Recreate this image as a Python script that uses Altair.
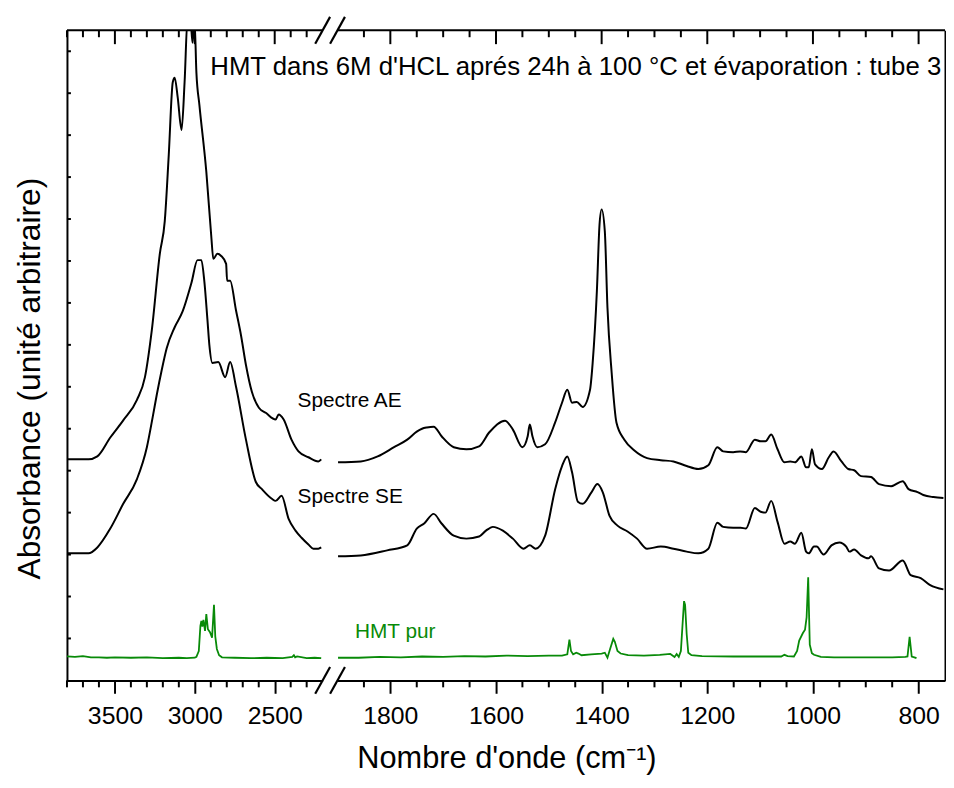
import altair as alt
import pandas as pd

FONT = "Liberation Sans"

# ---------------- data (wavenumber cm-1, absorbance in arbitrary offset units) ----------------
# left segment 3800 -> 2200
AE_L_W = [3800, 3665, 3610, 3529, 3448, 3362, 3312, 3269, 3219, 3188, 3163, 3138, 3126, 3107, 3083,
          3064, 3045, 3027, 3014, 3002, 2990, 2971, 2928, 2897, 2884, 2859, 2835, 2804, 2798, 2779,
          2742, 2711, 2680, 2643, 2599, 2556, 2494, 2475, 2444, 2395, 2351, 2289, 2227, 2209]
AE_L_A = [5.27, 5.27, 5.34, 5.79, 6.20, 6.69, 7.23, 8.35, 10.17, 10.95, 12.53, 14.26, 14.37, 13.90, 13.12,
          14.26, 15.8, 15.75, 15.2, 15.75, 14.49, 13.71, 12.13, 10.59, 10.05, 10.17, 10.12, 9.93, 9.53, 9.53,
          8.82, 8.23, 7.52, 6.88, 6.50, 6.38, 6.22, 6.34, 6.22, 5.74, 5.46, 5.32, 5.22, 5.27]

SE_L_W = [3800, 3665, 3610, 3529, 3448, 3362, 3300, 3263, 3238, 3207, 3176, 3126, 3077, 3021, 2983,
          2959, 2940, 2921, 2909, 2890, 2853, 2810, 2779, 2742, 2680, 2618, 2580, 2518, 2494, 2457,
          2413, 2370, 2332, 2289, 2258, 2227, 2209]
SE_L_A = [3.03, 3.03, 3.17, 3.62, 4.21, 4.80, 5.56, 6.29, 6.81, 7.40, 7.92, 8.42, 8.79, 9.48, 10.02,
          10.02, 9.50, 8.60, 8.00, 7.57, 7.59, 7.23, 7.59, 7.00, 5.74, 4.73, 4.56, 4.33, 4.28, 4.40,
          3.85, 3.57, 3.40, 3.24, 3.14, 3.14, 3.17]

HMT_L_W = [3800, 3750, 3700, 3650, 3600, 3550, 3500, 3400, 3300, 3200, 3100, 3050, 3000, 2990, 2975,
           2965, 2959, 2953, 2946, 2936, 2928, 2918, 2905, 2892, 2880, 2872, 2862, 2848, 2830, 2750,
           2650, 2550, 2450, 2390, 2380, 2372, 2360, 2300, 2250, 2209]
HMT_L_A = [0.57, 0.56, 0.58, 0.55, 0.55, 0.54, 0.55, 0.54, 0.55, 0.53, 0.54, 0.53, 0.54, 0.56, 0.70,
           1.30, 1.42, 1.28, 1.44, 1.18, 1.58, 1.22, 1.15, 1.02, 1.80, 1.05, 0.75, 0.60, 0.55, 0.54,
           0.53, 0.54, 0.53, 0.56, 0.60, 0.55, 0.57, 0.53, 0.54, 0.53]

# right segment 1900 -> 750
AE_R_W = [1899, 1856, 1824, 1793, 1768, 1750, 1740, 1731, 1718, 1703, 1680, 1656, 1632, 1613, 1583,
          1568, 1550, 1540, 1536, 1531, 1522, 1507, 1488, 1475, 1465, 1456, 1447, 1436, 1422, 1417,
          1409, 1404, 1400, 1394, 1389, 1381, 1372, 1357, 1338, 1314, 1288, 1264, 1239, 1217, 1198,
          1181, 1170, 1151, 1138, 1127, 1110, 1099, 1090, 1079, 1067, 1054, 1043, 1034, 1022, 1013,
          1008, 1002, 996, 983, 970, 961, 946, 933, 922, 909, 890, 875, 852, 830, 819,
          802, 791, 772, 753]
AE_R_A = [5.20, 5.22, 5.34, 5.56, 5.74, 5.93, 6.00, 6.03, 6.05, 5.82, 5.56, 5.51, 5.58, 5.91, 6.19,
          5.98, 5.56, 5.82, 6.10, 5.82, 5.56, 5.63, 6.15, 6.62, 6.93, 6.62, 6.64, 6.52, 6.93, 7.57,
          9.29, 10.87, 11.23, 10.71, 8.89, 7.33, 6.15, 5.74, 5.48, 5.30, 5.25, 5.22, 5.11, 5.04, 5.13,
          5.56, 5.46, 5.44, 5.46, 5.44, 5.74, 5.70, 5.70, 5.86, 5.51, 5.20, 5.22, 5.20, 5.34, 5.08,
          5.08, 5.51, 5.15, 5.04, 5.32, 5.46, 5.22, 5.04, 5.01, 4.87, 4.85, 4.68, 4.63, 4.75, 4.56,
          4.49, 4.42, 4.37, 4.35]

SE_R_W = [1899, 1856, 1806, 1768, 1750, 1736, 1718, 1703, 1680, 1656, 1632, 1619, 1606, 1587, 1568,
          1548, 1536, 1525, 1507, 1488, 1475, 1465, 1456, 1445, 1436, 1419, 1408, 1398, 1385, 1370,
          1351, 1333, 1314, 1288, 1264, 1239, 1217, 1198, 1181, 1170, 1151, 1137, 1127, 1110, 1099,
          1090, 1079, 1067, 1054, 1043, 1034, 1022, 1013, 1008, 998, 993, 980, 965, 950, 937,
          931, 922, 909, 895, 890, 875, 856, 830, 815, 796, 778, 753]
SE_R_A = [2.96, 2.98, 3.10, 3.22, 3.62, 3.74, 3.97, 3.74, 3.45, 3.38, 3.43, 3.57, 3.66, 3.57, 3.38,
          3.14, 3.22, 3.14, 3.45, 4.56, 5.11, 5.34, 4.96, 4.26, 4.21, 4.49, 4.68, 4.49, 3.92, 3.69,
          3.55, 3.38, 3.14, 3.19, 3.14, 3.07, 3.03, 3.14, 3.76, 3.66, 3.64, 3.64, 3.62, 4.11, 4.02,
          4.00, 4.28, 3.78, 3.26, 3.31, 3.26, 3.52, 3.07, 3.03, 3.19, 3.19, 3.00, 3.22, 3.29, 3.19,
          3.07, 3.12, 2.98, 2.91, 2.96, 2.67, 2.62, 2.86, 2.51, 2.44, 2.27, 2.17]

HMT_R_W = [1899, 1860, 1820, 1780, 1740, 1700, 1660, 1620, 1580, 1540, 1500, 1475, 1465, 1461, 1458,
           1454, 1448, 1444, 1438, 1420, 1400, 1394, 1389, 1384, 1378, 1375, 1370, 1364, 1350, 1320,
           1290, 1270, 1262, 1258, 1254, 1250, 1247, 1244, 1242, 1239, 1236, 1230, 1210, 1150, 1100,
           1060, 1054, 1048, 1036, 1030, 1026, 1019, 1015, 1012, 1009, 1006, 1002, 998, 985, 960,
           900, 850, 825, 821, 817, 813, 808, 804]
HMT_R_A = [0.54, 0.54, 0.56, 0.55, 0.57, 0.56, 0.58, 0.57, 0.59, 0.58, 0.59, 0.59, 0.62, 0.97, 0.70,
           0.62, 0.66, 0.64, 0.60, 0.62, 0.64, 0.66, 0.54, 0.75, 0.99, 0.92, 0.70, 0.64, 0.60, 0.59,
           0.61, 0.63, 0.56, 0.63, 0.56, 0.70, 1.30, 1.89, 1.80, 1.10, 0.66, 0.60, 0.58, 0.57, 0.57,
           0.57, 0.61, 0.58, 0.57, 0.70, 0.95, 1.13, 1.21, 1.50, 2.46, 0.85, 0.65, 0.61, 0.56, 0.55,
           0.55, 0.55, 0.56, 0.57, 1.04, 0.57, 0.55, 0.53]

# axis ticks
L_MAJOR = [3500, 3000, 2500]
L_MINOR = [3800, 3700, 3600, 3400, 3300, 3200, 3100, 2900, 2800, 2700, 2600, 2400, 2300]
R_MAJOR = [1800, 1600, 1400, 1200, 1000, 800]
R_MINOR = [1850, 1750, 1700, 1650, 1550, 1500, 1450, 1350, 1300, 1250, 1150, 1100, 1050, 950, 900, 850]
Y_TICKS = list(range(1, 16))

# annotations
TITLE = "HMT dans 6M d'HCL aprés 24h à 100 °C et évaporation : tube 3"
LBL_L_TEXT = ["Spectre AE", "Spectre SE"]
LBL_L_W = [2357, 2357]
LBL_L_A = [6.52, 4.23]
LBL_R_TEXT = ["HMT pur"]
LBL_R_W = [1867]
LBL_R_A = [1.02]

W1, W2, H = 258, 613, 656
Y_MAX = 15.5
GREEN = "#088a08"


def long_df(items):
    frames = []
    for name, w, a in items:
        assert len(w) == len(a), name
        frames.append(pd.DataFrame({"w": w, "a": a, "s": name}))
    return pd.concat(frames, ignore_index=True)


one = pd.DataFrame({"k": [0]})


def panel(black_df, green_df, dom, width, major, minor, left, texts):
    xs = alt.Scale(domain=dom, reverse=True, nice=False, zero=False)
    ys = alt.Scale(domain=[0, Y_MAX], nice=False, zero=False)

    xaxis_kw = dict(values=major, tickSize=13, tickWidth=2, tickColor="black",
                    domainWidth=2, domainColor="black", labelFontSize=25, labelPadding=10,
                    labelFont=FONT, labelColor="black", format="d", grid=False,
                    labelFlush=False, labelOverlap=False)
    if left:
        xaxis = alt.Axis(title=None, **xaxis_kw)
        yaxis = alt.Axis(title="Absorbance (unité arbitraire)", labels=False, ticks=False,
                         domain=True, domainWidth=2, domainColor="black", grid=False,
                         titleFontSize=32, titleFontWeight="normal", titleFont=FONT,
                         titleColor="black", titleX=-28, titleY=351, titleAngle=270,
                         titleBaseline="alphabetic", titleAlign="center")
    else:
        xaxis = alt.Axis(title="Nombre d'onde (cm⁻¹)", titleFontSize=31, titleFontWeight="normal",
                         titleFont=FONT, titleColor="black", titleX=170.5, titleY=88,
                         titleBaseline="alphabetic", titleAlign="center", **xaxis_kw)
        yaxis = alt.Axis(orient="right", title=None, labels=False, ticks=False, domain=True,
                         domainWidth=2, domainColor="black", grid=False)

    X = lambda f: alt.X(f, scale=xs, axis=xaxis)
    Y = lambda f: alt.Y(f, scale=ys, axis=yaxis)

    black = alt.Chart(black_df).mark_line(color="black", strokeWidth=2, clip=True,
                                          interpolate="monotone").encode(
        x=X("w:Q"), y=Y("a:Q"), detail="s:N",
        order=alt.Order("w:Q", sort="descending"),
    )
    green = alt.Chart(green_df).mark_line(color=GREEN, strokeWidth=1.8, clip=True).encode(
        x=X("w:Q"), y=Y("a:Q"), order=alt.Order("w:Q", sort="descending"),
    )

    def xrule(vals, y0, y1):
        return alt.Chart(pd.DataFrame({"t": vals})).mark_rule(color="black", strokeWidth=2).encode(
            x=X("t:Q"), y=alt.value(y0), y2=alt.value(y1))

    layers = [black, green,
              xrule(major, 0, 14), xrule(minor, 0, 7), xrule(minor, H, H + 7)]

    layers.append(alt.Chart(one).mark_rule(color="black", strokeWidth=2).encode(
        x=alt.value(0), x2=alt.value(width), y=alt.value(0)))

    if left:
        layers.append(alt.Chart(pd.DataFrame({"v": Y_TICKS})).mark_rule(
            color="black", strokeWidth=2).encode(
            x=alt.value(0), x2=alt.value(4), y=Y("v:Q")))
        sx = width
    else:
        sx = 0
    for yc in (0, H):
        layers.append(alt.Chart(one).mark_rule(color="black", strokeWidth=2.2).encode(
            x=alt.value(sx - 7.5), x2=alt.value(sx + 7.5),
            y=alt.value(yc + 13.5), y2=alt.value(yc - 13.5)))

    layers.extend(texts(X, Y))
    return alt.layer(*layers).properties(width=width, height=H)


def left_texts(X, Y):
    lab = alt.Chart(pd.DataFrame({"t": LBL_L_TEXT, "w": LBL_L_W, "a": LBL_L_A})).mark_text(
        align="left", baseline="alphabetic", fontSize=21, font=FONT, color="black").encode(
        x=X("w:Q"), y=Y("a:Q"), text="t:N")
    ttl = alt.Chart(pd.DataFrame({"t": [TITLE], "w": [2903], "a": [14.44]})).mark_text(
        align="left", baseline="alphabetic", fontSize=26, font=FONT, color="black").encode(
        x=X("w:Q"), y=Y("a:Q"), text="t:N")
    return [lab, ttl]


def right_texts(X, Y):
    lab = alt.Chart(pd.DataFrame({"t": LBL_R_TEXT, "w": LBL_R_W, "a": LBL_R_A})).mark_text(
        align="left", baseline="alphabetic", fontSize=21, font=FONT, color=GREEN).encode(
        x=X("w:Q"), y=Y("a:Q"), text="t:N")
    return [lab]


black_L = long_df([("Spectre AE", AE_L_W, AE_L_A), ("Spectre SE", SE_L_W, SE_L_A)])
green_L = long_df([("HMT pur", HMT_L_W, HMT_L_A)])
black_R = long_df([("Spectre AE", AE_R_W, AE_R_A), ("Spectre SE", SE_R_W, SE_R_A)])
green_R = long_df([("HMT pur", HMT_R_W, HMT_R_A)])

left = panel(black_L, green_L, [2200, 3800], W1, L_MAJOR, L_MINOR, True, left_texts)
right = panel(black_R, green_R, [750, 1900], W2, R_MAJOR, R_MINOR, False, right_texts)

chart = alt.hconcat(left, right, spacing=15, bounds="flush").properties(
    padding={"left": 4.5, "top": 4, "right": 0, "bottom": 0},
    background="white",
).configure(font=FONT).configure_view(stroke="transparent", strokeWidth=0)

chart.save("out.html", embed_options={"renderer": "svg", "actions": False})
